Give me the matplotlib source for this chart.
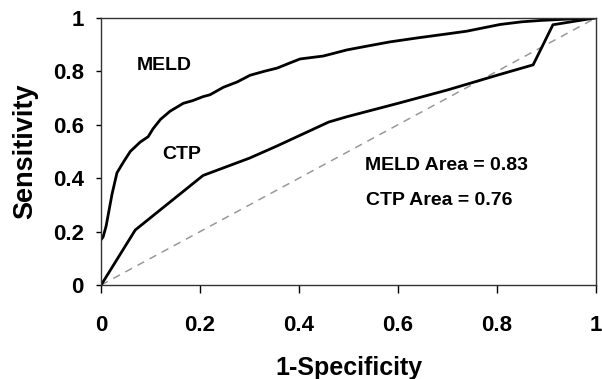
import matplotlib.pyplot as plt

plt.rcParams['font.family'] = ['Liberation Sans', 'DejaVu Sans']
plt.rcParams['font.weight'] = 'bold'

# ROC curves (1-specificity, sensitivity)
meld_x = [0.0, 0.004, 0.01, 0.016, 0.022, 0.032, 0.045, 0.059, 0.079, 0.095, 0.105,
          0.12, 0.139, 0.166, 0.185, 0.206, 0.220, 0.247, 0.275, 0.301, 0.330,
          0.356, 0.380, 0.402, 0.449, 0.497, 0.540, 0.584, 0.640, 0.700, 0.739,
          0.806, 0.850, 0.887, 0.940, 1.0]
meld_y = [0.17, 0.18, 0.22, 0.28, 0.34, 0.42, 0.46, 0.50, 0.535, 0.555, 0.585,
          0.62, 0.65, 0.68, 0.69, 0.705, 0.712, 0.74, 0.76, 0.785, 0.80,
          0.812, 0.83, 0.846, 0.857, 0.88, 0.895, 0.91, 0.925, 0.94, 0.95,
          0.975, 0.985, 0.99, 0.995, 1.0]

ctp_x = [0.0, 0.069, 0.206, 0.30, 0.355, 0.46, 0.497, 0.60, 0.70, 0.80, 0.873, 0.913, 1.0]
ctp_y = [0.0, 0.206, 0.41, 0.475, 0.52, 0.61, 0.63, 0.68, 0.73, 0.785, 0.824, 0.974, 1.0]

ticks = [0, 0.2, 0.4, 0.6, 0.8, 1]
tick_labels = ['0', '0.2', '0.4', '0.6', '0.8', '1']

fig = plt.figure(figsize=(6.02, 3.79), dpi=100)
ax = fig.add_axes([0.168, 0.248, 0.822, 0.705])

ax.plot([0, 1], [0, 1], color='#999999', linestyle=(0, (5, 4)), linewidth=1.1)
ax.plot(meld_x, meld_y, color='black', linewidth=2.0)
ax.plot(ctp_x, ctp_y, color='black', linewidth=2.0)

ax.text(0.127, 0.82, 'MELD', ha='center', va='center', fontsize=14, fontweight='bold')
ax.text(0.162, 0.49, 'CTP', ha='center', va='center', fontsize=14, fontweight='bold')
ax.text(0.533, 0.446, 'MELD Area = 0.83', ha='left', va='center', fontsize=14, fontweight='bold')
ax.text(0.535, 0.315, 'CTP Area = 0.76', ha='left', va='center', fontsize=14, fontweight='bold')

ax.set_xlim(0, 1)
ax.set_ylim(0, 1)
ax.set_xticks(ticks)
ax.set_xticklabels(tick_labels)
ax.set_yticks(ticks)
ax.set_yticklabels(tick_labels)
ax.tick_params(axis='x', direction='out', length=5.8, width=1, labelsize=16, pad=16)
ax.tick_params(axis='y', direction='out', length=3.6, width=1, labelsize=16, pad=9)
for s in ax.spines.values():
    s.set_linewidth(1.0)
    s.set_color('#333333')

ax.set_xlabel('1-Specificity', fontsize=18, fontweight='bold', labelpad=14)
ax.set_ylabel('Sensitivity', fontsize=19.5, fontweight='bold', labelpad=10)

fig.savefig('out.png', dpi=100)
